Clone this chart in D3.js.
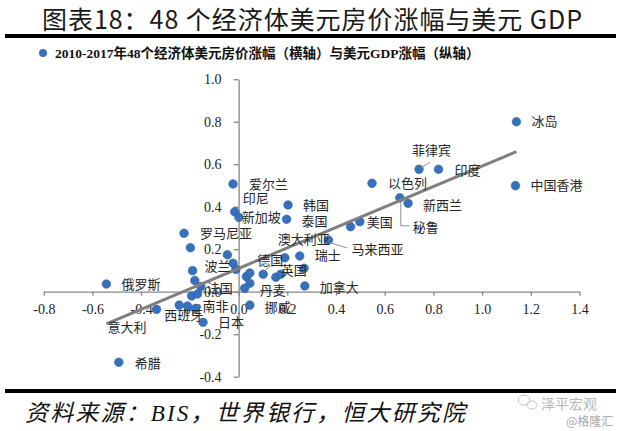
<!DOCTYPE html>
<head>
    <meta charset="utf-8">
    <script src="https://d3js.org/d3.v7.min.js"></script>
    <style>
        body { margin: 0; background: #fff; }
        .axis path, .axis line { stroke: #868686; stroke-width: 1.3px; }
        .axis text { font: 14px "Liberation Serif", serif; fill: #222; }
        .lbl { font: 13px "Noto Sans CJK SC", sans-serif; fill: #262626; }
    </style>
</head>
<body>
    <script>
        // 经济体名称、美元房价涨幅（横轴）、美元GDP涨幅（纵轴）
        var names = ["冰岛", "中国香港", "菲律宾", "印度", "以色列", "秘鲁", "新西兰", "美国", "",
            "韩国", "泰国", "爱尔兰", "印尼", "新加坡", "罗马尼亚", "", "", "马来西亚", "瑞士",
            "澳大利亚", "德国", "英国", "", "", "加拿大", "", "", "", "", "", "丹麦", "挪威", "日本",
            "波兰", "", "法国", "", "", "西班牙", "南非", "", "意大利", "俄罗斯", "希腊"];
        var houseGrowth = [1.141, 1.137, 0.741, 0.821, 0.548, 0.662, 0.696, 0.498, 0.460,
            0.203, 0.197, -0.023, -0.016, 0.001, -0.224, -0.198, -0.046, 0.369, 0.251,
            0.190, 0.101, 0.153, 0.173, 0.269, 0.272, -0.023, -0.011, 0.032, 0.046, 0.025, 0.046, 0.046, -0.146,
            -0.189, -0.180, -0.155, -0.193, -0.169, -0.244, -0.210, -0.178, -0.337, -0.543, -0.492];
        var gdpGrowth = [0.800, 0.499, 0.576, 0.576, 0.510, 0.442, 0.416, 0.329, 0.306,
            0.408, 0.341, 0.507, 0.376, 0.350, 0.275, 0.207, 0.174, 0.243, 0.168,
            0.160, 0.082, 0.068, 0.082, 0.110, 0.027, 0.134, 0.105, 0.071, 0.088, 0.016, 0.040, -0.063, -0.144,
            0.099, 0.053, 0.024, -0.020, -0.011, -0.063, -0.067, -0.079, -0.083, 0.036, -0.332];
        // linear trend line as shown in the chart: [slope, intercept]
        var trendCoef = [0.481, 0.110];
        var xTicks = [-0.8, -0.6, -0.4, -0.2, 0.0, 0.2, 0.4, 0.6, 0.8, 1.0, 1.2, 1.4];
        var yTicks = [-0.4, -0.2, 0.0, 0.2, 0.4, 0.6, 0.8, 1.0];

        var title = "图表18：48 个经济体美元房价涨幅与美元 GDP";
        var legendText = "2010-2017年48个经济体美元房价涨幅（横轴）与美元GDP涨幅（纵轴）";
        var source = "资料来源：BIS，世界银行，恒大研究院";

        // label placement relative to the dot (px)
        var labelOffset = {
            "冰岛": [15, 0], "中国香港": [15, 0], "菲律宾": [-7, -19], "印度": [16, 1], "以色列": [16, 0],
            "秘鲁": [13, 30], "新西兰": [15, 2], "美国": [7, 1], "韩国": [15, 0], "泰国": [15, 2],
            "爱尔兰": [16, 0], "印尼": [8, -13], "新加坡": [3, 0], "罗马尼亚": [16, 0], "马来西亚": [23, 9],
            "瑞士": [15, -1], "澳大利亚": [-7, -18], "德国": [-6, -14], "英国": [5, -7], "加拿大": [15, 1],
            "丹麦": [10, 7], "挪威": [15, 2], "日本": [15, 0], "波兰": [12, -4], "法国": [6, 2],
            "南非": [15, 1], "西班牙": [-15, 10], "意大利": [-49, 18], "俄罗斯": [15, 0], "希腊": [16, 1]
        };
        // leader lines (points relative to the dot)
        var leaders = {
            "菲律宾": [[1, -1], [11, -7]],
            "秘鲁": [[1, 4], [1, 28], [10, 28]],
            "马来西亚": [[3, 3], [19, 8]],
            "德国": [[1, -3], [7, -8]]
        };

        var width = 620, height = 431;
        var svg = d3.select("body").append("svg")
            .attr("width", width)
            .attr("height", height);

        svg.append("rect").attr("width", width).attr("height", height).attr("fill", "#fff");

        // title + rules
        svg.append("text")
            .attr("x", 312).attr("y", 29)
            .attr("text-anchor", "middle")
            .style("font", "25px 'Noto Sans CJK SC', sans-serif")
            .style("fill", "#1a1a1a")
            .attr("textLength", 540)
            .attr("lengthAdjust", "spacing")
            .text(title);
        svg.append("rect").attr("x", 5).attr("y", 34).attr("width", 611).attr("height", 4).attr("fill", "#000");
        svg.append("rect").attr("x", 5).attr("y", 389).attr("width", 611).attr("height", 4).attr("fill", "#000");

        // legend
        svg.append("circle").attr("cx", 43).attr("cy", 53).attr("r", 4).attr("fill", "#3771bd");
        svg.append("text")
            .attr("x", 55).attr("y", 58)
            .style("font", "bold 13.5px 'Liberation Serif', 'Noto Sans CJK SC', serif")
            .style("fill", "#111")
            .text(legendText);

        var x = d3.scaleLinear().domain([-0.8, 1.4]).range([43.8, 579.5]);
        var y = d3.scaleLinear().domain([-0.4, 1.0]).range([376.7, 79.2]);
        var fmt = function (d) { return d.toFixed(1); };

        svg.append("g")
            .attr("class", "axis")
            .attr("transform", "translate(0," + y(0) + ")")
            .call(d3.axisBottom(x).tickValues(xTicks).tickFormat(fmt).tickSize(4).tickSizeOuter(0).tickPadding(8));

        svg.append("g")
            .attr("class", "axis")
            .attr("transform", "translate(" + x(0) + ",0)")
            .call(d3.axisLeft(y).tickValues(yTicks).tickFormat(fmt).tickSize(5).tickSizeOuter(0).tickPadding(12));

        var pts = names.map(function (n, i) {
            return { name: n, hx: houseGrowth[i], gy: gdpGrowth[i] };
        });

        svg.append("g").selectAll("circle")
            .data(pts).enter().append("circle")
            .attr("cx", function (d) { return x(d.hx); })
            .attr("cy", function (d) { return y(d.gy); })
            .attr("r", 4.3)
            .attr("fill", "#3771bd")
            .attr("stroke", "#2c5e9e")
            .attr("stroke-width", 0.6);

        // linear trend line over the data's x range
        var ext = d3.extent(houseGrowth);
        svg.append("line")
            .attr("x1", x(ext[0])).attr("y1", y(trendCoef[1] + trendCoef[0] * ext[0]))
            .attr("x2", x(ext[1])).attr("y2", y(trendCoef[1] + trendCoef[0] * ext[1]))
            .attr("stroke", "#7f7f7f")
            .attr("stroke-width", 3);

        // leader lines
        var named = pts.filter(function (d) { return d.name && labelOffset[d.name]; });
        svg.append("g").selectAll("polyline")
            .data(named.filter(function (d) { return leaders[d.name]; }))
            .enter().append("polyline")
            .attr("points", function (d) {
                return leaders[d.name].map(function (p) {
                    return (x(d.hx) + p[0]) + "," + (y(d.gy) + p[1]);
                }).join(" ");
            })
            .attr("fill", "none")
            .attr("stroke", "#8c8c8c")
            .attr("stroke-width", 1);

        svg.append("g").selectAll("text")
            .data(named).enter().append("text")
            .attr("class", "lbl")
            .attr("x", function (d) { return x(d.hx) + labelOffset[d.name][0]; })
            .attr("y", function (d) { return y(d.gy) + labelOffset[d.name][1]; })
            .attr("dy", "0.35em")
            .text(function (d) { return d.name; });

        // source
        svg.append("text")
            .attr("x", 25).attr("y", 421)
            .style("font", "italic 23px 'Liberation Serif', 'Noto Sans CJK SC', serif")
            .style("fill", "#111")
            .attr("textLength", 440)
            .attr("lengthAdjust", "spacing")
            .text(source);

        // watermark
        var wm = svg.append("g").attr("fill", "none").attr("stroke", "#c4c4c4").attr("stroke-width", 1);
        wm.append("ellipse").attr("cx", 524).attr("cy", 400).attr("rx", 6).attr("ry", 5);
        wm.append("ellipse").attr("cx", 532).attr("cy", 405).attr("rx", 5).attr("ry", 4);
        svg.append("text")
            .attr("x", 541).attr("y", 409)
            .style("font", "14px 'Noto Sans CJK SC', sans-serif")
            .style("fill", "#b8b8b8")
            .text("泽平宏观");
        svg.append("text")
            .attr("x", 566).attr("y", 426)
            .style("font", "12px 'Noto Sans CJK SC', sans-serif")
            .style("fill", "#a8a8a8")
            .text("@格隆汇");
    </script>
</body>
